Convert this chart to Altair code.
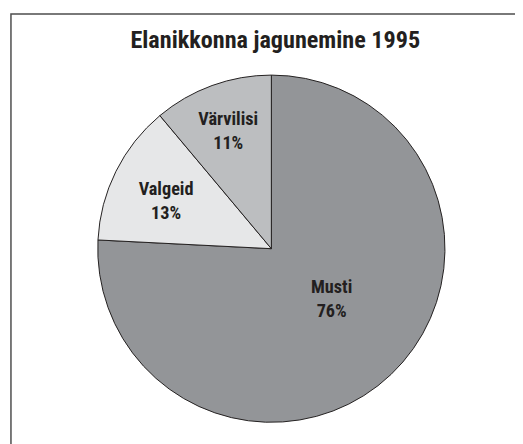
import altair as alt
import pandas as pd

# ---- data ----
categories = ["Musti", "Valgeid", "Värvilisi"]
shares = [75.8, 13.1, 11.1]          # drawn slice sizes (angles)
pct_labels = ["76%", "13%", "11%"]   # printed labels
colors = ["#939598", "#e6e7e8", "#bcbec0"]
title_text = "Elanikkonna jagunemine 1995"

FONT = "Roboto Condensed, Open Sans Condensed, Liberation Sans Narrow, DejaVu Sans Condensed, sans-serif"
INK = "#231f20"

df = pd.DataFrame({
    "cat": categories,
    "share": shares,
    "pct": pct_labels,
    "ord": list(range(len(categories))),
})

base = (
    alt.Chart(df)
    .transform_joinaggregate(total="sum(share)")
    .transform_calculate(frac="datum.share / datum.total")
    .transform_window(t1="sum(frac)", sort=[alt.SortField("ord")], frame=[None, 0])
    .transform_calculate(
        t0="datum.t1 - datum.frac",
        mid="datum.t1 - datum.frac / 2",
        label="datum.cat + '\\n' + datum.pct",
    )
)

theta_scale = alt.Scale(domain=[0, 1])

arcs = base.mark_arc(outerRadius=176, stroke=INK, strokeWidth=1).encode(
    theta=alt.Theta("t0:Q", scale=theta_scale),
    theta2="t1:Q",
    color=alt.Color("cat:N", scale=alt.Scale(domain=categories, range=colors), legend=None),
)

# label placement styles: (radius, dx, dy)
label_place = {"Musti": (80, 6, -19), "Valgeid": (117, -2, -8), "Värvilisi": (128, 0, -11)}
texts = [
    base.transform_filter(alt.datum.cat == c)
    .mark_text(
        radius=r, dx=ddx, dy=ddy, font=FONT, fontSize=18.5, fontWeight="bold", lineHeight=24,
        lineBreak="\n", color=INK, align="center", baseline="middle",
    )
    .encode(theta=alt.Theta("mid:Q", scale=theta_scale), text="label:N")
    for c, (r, ddx, ddy) in label_place.items()
]

frame = (
    alt.Chart(alt.Data(values=[{"f": 1}]))
    .mark_rect(filled=False, stroke="#4d4d4d", strokeWidth=1.5, clip=False)
    .encode(x=alt.value(-17), y=alt.value(-55), x2=alt.value(800), y2=alt.value(800))
)

chart = (
    alt.layer(frame, arcs, *texts)
    .properties(
        width=494,
        height=366,
        padding={"left": 20, "top": 58, "right": 0, "bottom": 12},
        autosize=alt.AutoSizeParams(type="none"),
        title=alt.TitleParams(
            title_text, font=FONT, fontSize=24.5, fontWeight="bold", color=INK,
            anchor="middle", frame="group", baseline="alphabetic", offset=0, dy=60, dx=4,
        ),
    )
    .configure_view(stroke=None)
)

chart.save("out.html", embed_options={"renderer": "svg", "actions": False})
